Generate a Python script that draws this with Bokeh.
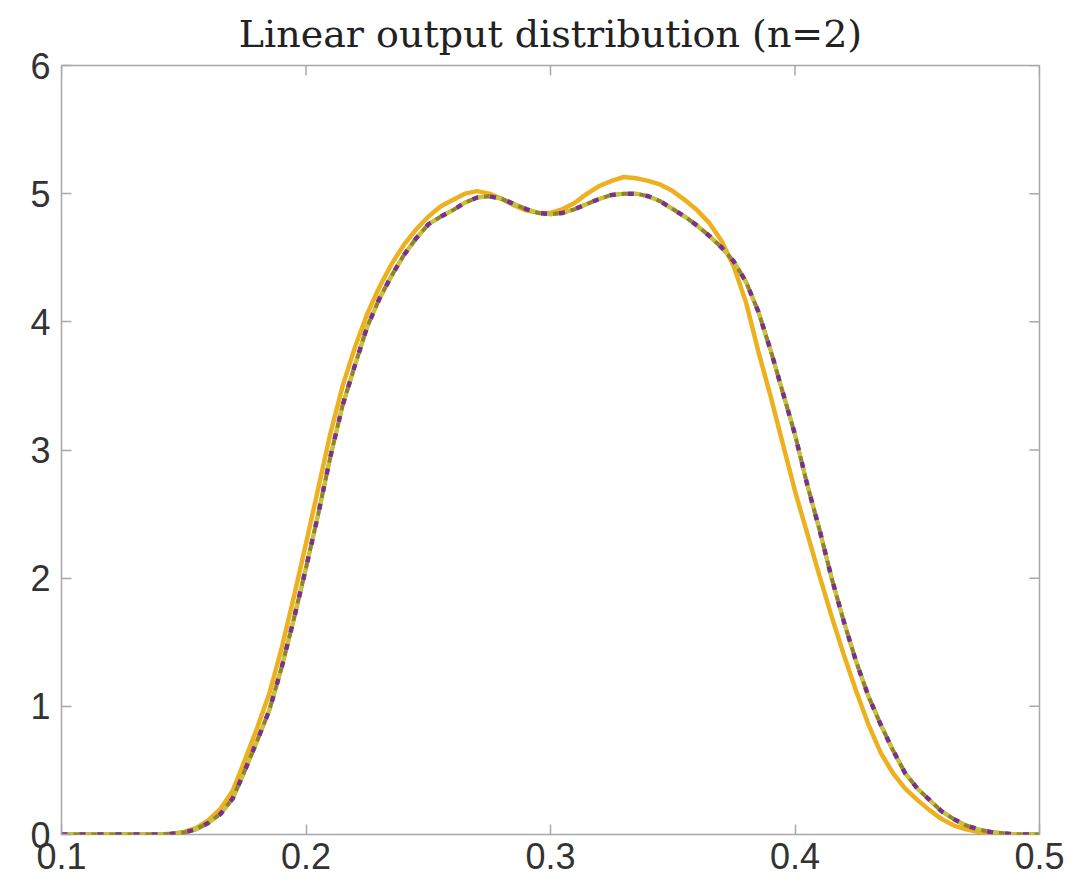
import math
from bokeh.plotting import figure
from bokeh.models import Range1d, FixedTicker, LinearAxis, Title
from bokeh.embed import file_html
from bokeh.resources import INLINE

# ---- data ----
x_grid = [0.100, 0.140, 0.145, 0.150, 0.155, 0.160, 0.165, 0.170, 0.175, 0.180,
          0.185, 0.190, 0.195, 0.200, 0.205, 0.210, 0.215, 0.220, 0.225, 0.230,
          0.235, 0.240, 0.245, 0.250, 0.255, 0.260, 0.265, 0.270, 0.275, 0.280,
          0.285, 0.290, 0.295, 0.300, 0.305, 0.310, 0.315, 0.320, 0.325, 0.330,
          0.335, 0.340, 0.345, 0.350, 0.355, 0.360, 0.365, 0.370, 0.375, 0.380,
          0.385, 0.390, 0.395, 0.400, 0.405, 0.410, 0.415, 0.420, 0.425, 0.430,
          0.435, 0.440, 0.445, 0.450, 0.455, 0.460, 0.465, 0.470, 0.475, 0.480,
          0.485, 0.490, 0.500]

theory_pdf = [0.00, 0.00, 0.005, 0.015, 0.04, 0.09, 0.16, 0.28, 0.50, 0.73,
              0.97, 1.30, 1.68, 2.08, 2.50, 2.95, 3.35, 3.66, 3.96, 4.18,
              4.36, 4.52, 4.65, 4.76, 4.82, 4.87, 4.93, 4.97, 4.98, 4.96,
              4.92, 4.88, 4.85, 4.84, 4.85, 4.88, 4.92, 4.96, 4.99, 5.00,
              5.00, 4.98, 4.94, 4.88, 4.82, 4.75, 4.67, 4.58, 4.47, 4.31,
              4.08, 3.78, 3.45, 3.12, 2.73, 2.38, 2.00, 1.66, 1.35, 1.08,
              0.86, 0.66, 0.48, 0.36, 0.27, 0.18, 0.12, 0.07, 0.04, 0.02,
              0.01, 0.00, 0.00]

empirical_pdf = [0.00, 0.00, 0.005, 0.02, 0.05, 0.11, 0.20, 0.34, 0.58, 0.83,
                 1.10, 1.45, 1.85, 2.27, 2.70, 3.13, 3.50, 3.80, 4.06, 4.27,
                 4.45, 4.60, 4.72, 4.82, 4.90, 4.95, 5.00, 5.02, 5.00, 4.96,
                 4.91, 4.87, 4.85, 4.85, 4.88, 4.93, 5.00, 5.06, 5.10, 5.13,
                 5.12, 5.10, 5.07, 5.02, 4.95, 4.87, 4.77, 4.63, 4.43, 4.15,
                 3.77, 3.42, 3.05, 2.68, 2.35, 2.02, 1.70, 1.40, 1.12, 0.86,
                 0.64, 0.48, 0.36, 0.27, 0.19, 0.12, 0.07, 0.04, 0.02, 0.01,
                 0.00, 0.00, 0.00]

x_ticks = [0.1, 0.2, 0.3, 0.4, 0.5]
y_ticks = [0, 1, 2, 3, 4, 5, 6]
x_lim = (0.1, 0.5)
y_lim = (0, 6)
title_text = "Linear output distribution (n=2)"

# ---- figure ----
p = figure(frame_width=978, frame_height=769, output_backend="svg",
           toolbar_location=None,
           x_range=Range1d(*x_lim), y_range=Range1d(*y_lim),
           x_axis_location=None, y_axis_location=None,
           min_border_left=61, min_border_right=30, min_border_top=63,
           min_border_bottom=50)
p.background_fill_color = "white"
p.border_fill_color = "white"
p.grid.visible = False
p.outline_line_color = "#a8a8a8"
p.outline_line_width = 1.5

title = Title(text=title_text, align="center", text_font="DejaVu Serif",
              text_font_size="38px", text_font_style="normal",
              text_color="#222222", offset=-8, standoff=19)
p.add_layout(title, "above")

label_font = "Liberation Sans"
label_size = "36px"
tick_color = "#a8a8a8"

def style_axis(ax, standoff):
    ax.axis_line_color = None
    ax.major_tick_line_color = tick_color
    ax.major_tick_line_width = 1.5
    ax.major_tick_in = 10
    ax.major_tick_out = 0
    ax.minor_tick_line_color = None
    ax.major_label_text_font = label_font
    ax.major_label_text_font_size = label_size
    ax.major_label_text_color = "#333333"
    ax.major_label_standoff = standoff

xb = LinearAxis(ticker=FixedTicker(ticks=x_ticks))
style_axis(xb, 8)
p.add_layout(xb, "below")
yl = LinearAxis(ticker=FixedTicker(ticks=y_ticks))
style_axis(yl, 11)
p.add_layout(yl, "left")

# inward tick marks on the top and right edges of the box (clipped to frame)
p.scatter(x_ticks, [y_lim[1]] * len(x_ticks), marker="dash", size=20,
          angle=math.pi / 2, line_color=tick_color, line_width=1.5)
p.scatter([x_lim[1]] * len(y_ticks), y_ticks, marker="dash", size=20,
          line_color=tick_color, line_width=1.5)

# empirical (solid yellow)
p.line(x_grid, empirical_pdf, line_color="#EDB120", line_width=4.5)
# theoretical curves overlaid
p.line(x_grid, theory_pdf, line_color="#77AC30", line_width=4)
p.line(x_grid, theory_pdf, line_color="#C9C23A", line_width=4,
       line_dash="6 12", line_dash_offset=12)
p.line(x_grid, theory_pdf, line_color="#B0602A", line_width=4, line_alpha=0.6,
       line_dash="5 13", line_dash_offset=6)
p.line(x_grid, theory_pdf, line_color="#7E2F8E", line_width=4.5,
       line_dash="6 12", line_dash_offset=0)

open("out.html", "w").write(file_html(p, INLINE))
